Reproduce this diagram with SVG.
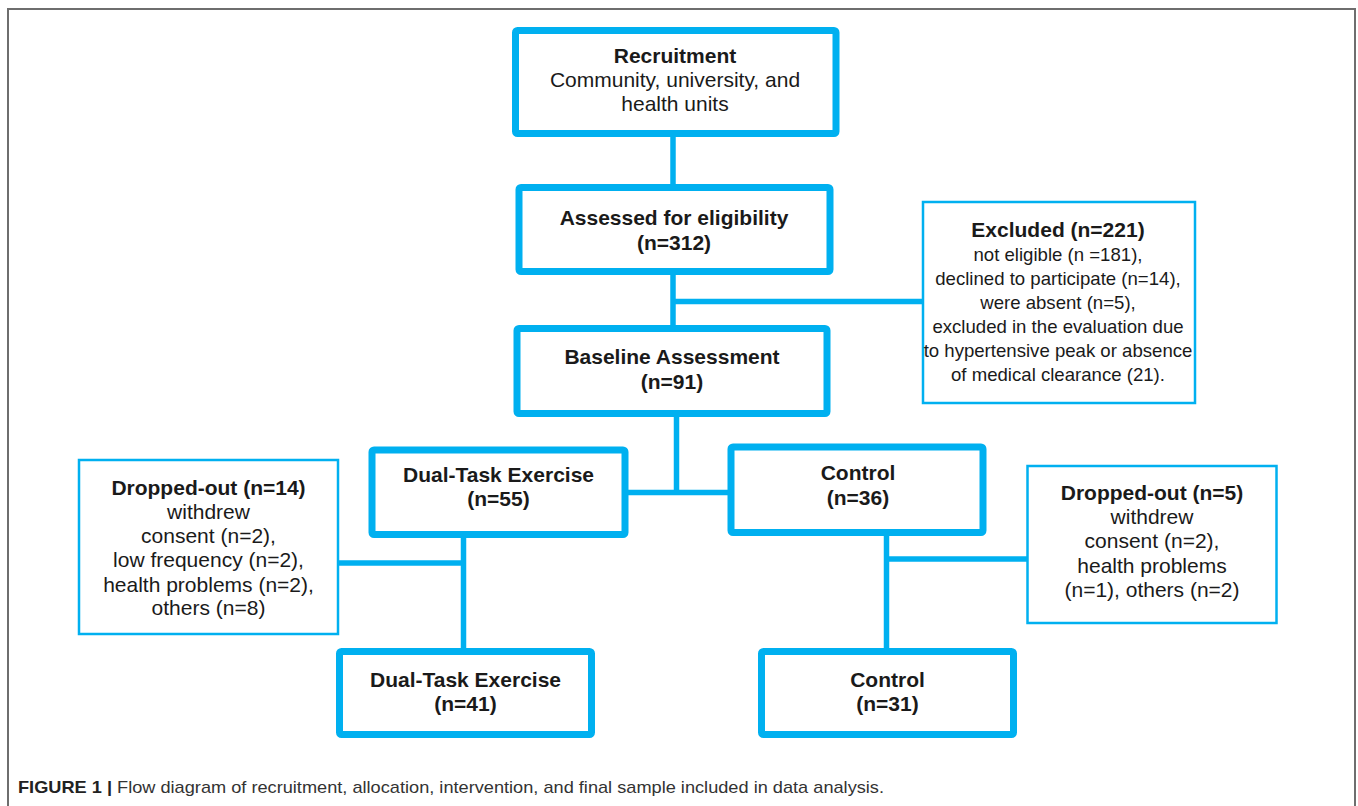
<svg xmlns="http://www.w3.org/2000/svg" width="1358" height="806" viewBox="0 0 1358 806">
<style>
  .thick { fill: #ffffff; stroke: #00B0F0; stroke-width: 7; }
  .thin { fill: #ffffff; stroke: #00B0F0; stroke-width: 2.5; }
  .conn { fill: none; stroke: #00B0F0; stroke-width: 5.5; stroke-linecap: butt; }
  text { font-family: "Liberation Sans", Arial, sans-serif; font-size: 21px; fill: #1a1a1a; text-anchor: middle; }
  .b { font-weight: bold; }
  .sm { font-size: 18.6px; }
  .cap { font-size: 17px; text-anchor: start; fill: #333333; }
</style>
<rect x="0" y="0" width="1358" height="806" fill="#ffffff"/>
<rect x="8" y="9" width="1347" height="860" fill="none" stroke="#6e6e6e" stroke-width="2"/>

<g id="connectors">
  <line class="conn" x1="673" y1="133" x2="673" y2="188"/>
  <line class="conn" x1="673" y1="271" x2="673" y2="329"/>
  <line class="conn" x1="673" y1="301.5" x2="923" y2="301.5"/>
  <line class="conn" x1="676.5" y1="413" x2="676.5" y2="492.5"/>
  <line class="conn" x1="625" y1="492.5" x2="731" y2="492.5"/>
  <line class="conn" x1="463.5" y1="535" x2="463.5" y2="652"/>
  <line class="conn" x1="338" y1="563" x2="463.5" y2="563"/>
  <line class="conn" x1="886.5" y1="532" x2="886.5" y2="652"/>
  <line class="conn" x1="886.5" y1="559" x2="1027.5" y2="559"/>
</g>

<g id="recruitment">
  <rect class="thick" x="515.5" y="30.5" width="320.5" height="103" rx="2"/>
  <text x="675" y="62.5" class="b">Recruitment</text>
  <text x="675" y="86.5">Community, university, and</text>
  <text x="675" y="110.5">health units</text>
</g>

<g id="assessed">
  <rect class="thick" x="519" y="187.5" width="311" height="84" rx="2"/>
  <text x="674" y="224.5" class="b">Assessed for eligibility</text>
  <text x="674" y="250" class="b">(n=312)</text>
</g>

<g id="excluded">
  <rect class="thin" x="923" y="202" width="272" height="201"/>
  <text x="1058" y="236.5" class="b" font-size="20">Excluded (n=221)</text>
  <text x="1058" y="260.5" class="sm">not eligible (n =181),</text>
  <text x="1058" y="284.5" class="sm">declined to participate (n=14),</text>
  <text x="1058" y="308.5" class="sm">were absent (n=5),</text>
  <text x="1058" y="332.5" class="sm">excluded in the evaluation due</text>
  <text x="1058" y="357" class="sm">to hypertensive peak or absence</text>
  <text x="1058" y="381" class="sm">of medical clearance (21).</text>
</g>

<g id="baseline">
  <rect class="thick" x="517" y="328.5" width="310" height="85" rx="2"/>
  <text x="672" y="364" class="b">Baseline Assessment</text>
  <text x="672" y="389" class="b">(n=91)</text>
</g>

<g id="dualtask1">
  <rect class="thick" x="372" y="450" width="253" height="84.5" rx="2"/>
  <text x="498.5" y="482" class="b">Dual-Task Exercise</text>
  <text x="498.5" y="506" class="b">(n=55)</text>
</g>

<g id="control1">
  <rect class="thick" x="731" y="447" width="252" height="85.5" rx="2"/>
  <text x="858" y="479.5" class="b">Control</text>
  <text x="858" y="505" class="b">(n=36)</text>
</g>

<g id="dropout1">
  <rect class="thin" x="79" y="460" width="259" height="174"/>
  <text x="208.5" y="495" class="b">Dropped-out (n=14)</text>
  <text x="208.5" y="519">withdrew</text>
  <text x="208.5" y="543">consent (n=2),</text>
  <text x="208.5" y="567">low frequency (n=2),</text>
  <text x="208.5" y="591.5">health problems (n=2),</text>
  <text x="208.5" y="615">others (n=8)</text>
</g>

<g id="dropout2">
  <rect class="thin" x="1027.5" y="466" width="249" height="157"/>
  <text x="1152" y="500" class="b">Dropped-out (n=5)</text>
  <text x="1152" y="524">withdrew</text>
  <text x="1152" y="548">consent (n=2),</text>
  <text x="1152" y="572.5">health problems</text>
  <text x="1152" y="597">(n=1), others (n=2)</text>
</g>

<g id="dualtask2">
  <rect class="thick" x="339.5" y="651.5" width="252" height="83" rx="2"/>
  <text x="465.5" y="687" class="b">Dual-Task Exercise</text>
  <text x="465.5" y="711" class="b">(n=41)</text>
</g>

<g id="control2">
  <rect class="thick" x="761.5" y="651.5" width="252" height="83" rx="2"/>
  <text x="887.5" y="687" class="b">Control</text>
  <text x="887.5" y="711" class="b">(n=31)</text>
</g>

<text class="cap" x="18" y="793" textLength="866" lengthAdjust="spacingAndGlyphs"><tspan font-weight="bold" fill="#222222">FIGURE 1 |</tspan> Flow diagram of recruitment, allocation, intervention, and final sample included in data analysis.</text>
</svg>
